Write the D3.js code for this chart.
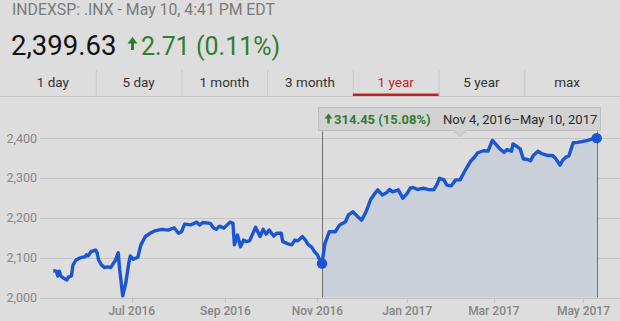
<!DOCTYPE html>
<html><head><meta charset="utf-8">
<script src="https://cdn.jsdelivr.net/npm/d3@7/dist/d3.min.js"></script>
<style>
html,body{margin:0;padding:0;background:#dddddd;}
svg{display:block;font-family:Roboto,"Noto Sans",sans-serif;}
</style></head>
<body><svg id="c" width="620" height="321"></svg>
<script>
const tabs = ["1 day","5 day","1 month","3 month","1 year","5 year","max"];
const activeTab = "1 year";
const headerTitle = "INDEXSP: .INX - May 10, 4:41 PM EDT";
const lastPrice = "2,399.63";
const dayChange = "2.71 (0.11%)";
const rangeChange = "314.45 (15.08%)";
const rangeLabel = "Nov 4, 2016\u2013May 10, 2017";
const yTicks = [2000, 2100, 2200, 2300, 2400];
const xTicks = ["2016-07-01","2016-09-01","2016-11-01","2017-01-01","2017-03-01","2017-05-01"];
const selStart = "2016-11-04";
const dates = [
"2016-05-10","2016-05-12","2016-05-13","2016-05-14","2016-05-15","2016-05-17","2016-05-19","2016-05-20","2016-05-22","2016-05-23",
"2016-05-25","2016-05-27","2016-05-29","2016-05-31","2016-06-01","2016-06-02","2016-06-04","2016-06-07","2016-06-08","2016-06-09",
"2016-06-11","2016-06-13","2016-06-15","2016-06-17","2016-06-19","2016-06-20","2016-06-22","2016-06-23","2016-06-25","2016-06-27",
"2016-06-29","2016-06-30","2016-07-02","2016-07-05","2016-07-07","2016-07-10","2016-07-13","2016-07-16","2016-07-21","2016-07-25",
"2016-07-29","2016-08-01","2016-08-03","2016-08-05","2016-08-09","2016-08-13","2016-08-15","2016-08-17","2016-08-22","2016-08-24",
"2016-08-26","2016-08-28","2016-08-31","2016-09-04","2016-09-06","2016-09-07","2016-09-09","2016-09-11","2016-09-13","2016-09-15",
"2016-09-17","2016-09-21","2016-09-24","2016-09-26","2016-09-28","2016-09-30","2016-10-03","2016-10-05","2016-10-08","2016-10-09",
"2016-10-13","2016-10-15","2016-10-17","2016-10-19","2016-10-22","2016-10-24","2016-10-26","2016-10-28","2016-10-30","2016-11-01",
"2016-11-02","2016-11-04",
"2016-11-06","2016-11-09","2016-11-13","2016-11-16","2016-11-20","2016-11-22","2016-11-25","2016-11-28","2016-12-01","2016-12-04",
"2016-12-07","2016-12-10","2016-12-12","2016-12-15","2016-12-18","2016-12-20","2016-12-22","2016-12-26","2016-12-29","2017-01-01",
"2017-01-03","2017-01-05","2017-01-08","2017-01-12","2017-01-15","2017-01-19","2017-01-21","2017-01-23","2017-01-26","2017-01-28",
"2017-01-31","2017-02-03","2017-02-06","2017-02-09","2017-02-13","2017-02-16","2017-02-18","2017-02-22","2017-02-25","2017-02-28",
"2017-03-02","2017-03-05","2017-03-08","2017-03-10","2017-03-13","2017-03-14","2017-03-17","2017-03-19","2017-03-21","2017-03-24",
"2017-03-26","2017-03-28","2017-03-31","2017-04-03","2017-04-07","2017-04-10","2017-04-12","2017-04-15","2017-04-17","2017-04-19",
"2017-04-21","2017-04-24","2017-04-27","2017-04-30","2017-05-04","2017-05-07","2017-05-10"];
const closes = [
2067,2066,2054,2066,2054,2048,2044,2051,2054,2081,
2094,2098,2101,2102,2107,2104,2115,2119,2112,2094,
2081,2075,2077,2075,2087,2092,2112,2069,2004,2036,
2086,2104,2096,2101,2132,2153,2161,2167,2171,2169,
2175,2161,2165,2184,2182,2189,2182,2188,2186,2175,
2171,2179,2174,2189,2186,2132,2157,2127,2144,2140,
2142,2176,2153,2171,2159,2169,2154,2161,2161,2140,
2134,2132,2144,2142,2153,2144,2132,2127,2115,2107,
2098,2085.18,
2136,2165,2165,2182,2190,2207,2215,2204,2194,2215,
2245,2261,2270,2257,2263,2271,2265,2270,2249,2261,
2274,2276,2271,2274,2271,2270,2282,2299,2295,2282,
2280,2295,2295,2316,2341,2353,2363,2368,2367,2394,
2386,2373,2364,2371,2367,2385,2378,2372,2348,2346,
2343,2357,2367,2360,2356,2356,2349,2332,2345,2352,
2355,2388,2389,2391,2394,2398,2399.63];

const parse = d3.timeParse("%Y-%m-%d");
const data = dates.map((d,i)=>({date:parse(d), v:closes[i]}));
const first = data[0].date, last = data[data.length-1].date, sel = parse(selStart);
const selData = data.filter(d=>d.date>=sel);

const svg = d3.select("#c");
svg.append("rect").attr("width",620).attr("height",321).attr("fill","#dddddd");

// header
svg.append("text").attr("x",12).attr("y",15).attr("font-size",15.8).attr("fill","#7a7a7a").text(headerTitle);
svg.append("text").attr("x",11).attr("y",54.5).attr("font-size",27.5).attr("fill","#111").text(lastPrice);
const green = "#2f7d2f";
svg.append("path").attr("d","M132.5,37 L127.5,43.5 L131,43.5 L131,50 L134,50 L134,43.5 L137.5,43.5 Z").attr("fill",green);
svg.append("text").attr("x",141).attr("y",54.5).attr("font-size",25).attr("fill",green).text(dayChange);

// tabs
const tabX = d3.scaleBand().domain(tabs).range([10,610]);
svg.append("line").attr("x1",0).attr("x2",620).attr("y1",96.5).attr("y2",96.5).attr("stroke","#c6c6c6");
tabs.forEach((t,i)=>{
  if(i>0) svg.append("line").attr("x1",tabX(t)+0.5).attr("x2",tabX(t)+0.5).attr("y1",70).attr("y2",96).attr("stroke","#c8c8c8");
  svg.append("text").attr("x",tabX(t)+tabX.bandwidth()/2).attr("y",86.5).attr("text-anchor","middle")
    .attr("font-size",13.5).attr("fill", t===activeTab?"#c5221f":"#333").text(t);
});
svg.append("rect").attr("x",tabX(activeTab)).attr("y",93.5).attr("width",tabX.bandwidth()).attr("height",2.5).attr("fill","#c5221f");

// scales
const x = d3.scaleTime().domain([first, sel, last]).range([53.3, 322, 596.7]);
const y = d3.scaleLinear().domain([2000,2400]).range([297.5,138]);

// grid + y labels
yTicks.forEach(t=>{
  svg.append("line").attr("x1",40).attr("x2",620).attr("y1",Math.round(y(t))+0.5).attr("y2",Math.round(y(t))+0.5).attr("stroke","#c4c4c4");
  svg.append("text").attr("x",37).attr("y",y(t)+4.5).attr("text-anchor","end").attr("font-size",12.5).attr("fill","#858585")
    .text(d3.format(",")(t));
});
// x ticks
const fmt = d3.timeFormat("%b %Y");
xTicks.map(parse).forEach(t=>{
  svg.append("line").attr("x1",Math.round(x(t))+0.5).attr("x2",Math.round(x(t))+0.5).attr("y1",y(2000)).attr("y2",y(2000)+5).attr("stroke","#c4c4c4");
  svg.append("text").attr("x",x(t)).attr("y",315).attr("text-anchor","middle").attr("font-size",12).attr("font-weight",500).attr("fill","#858585").text(fmt(t));
});

// area selection
svg.append("path").datum(selData).attr("fill","#c9d0da")
  .attr("d", d3.area().x(d=>x(d.date)).y0(y(2000)).y1(d=>y(d.v)));

// vertical lines
[sel,last].forEach(t=>{
  svg.append("line").attr("x1",Math.round(x(t))+0.5).attr("x2",Math.round(x(t))+0.5).attr("y1",131.5).attr("y2",y(2000)).attr("stroke","#6e6e6e");
});

// line
svg.append("path").datum(data).attr("fill","none").attr("stroke","#1a55d3").attr("stroke-width",3.4).attr("stroke-linejoin","round")
  .attr("d", d3.line().x(d=>x(d.date)).y(d=>y(d.v)));
[selData[0], data[data.length-1]].forEach(d=>{
  svg.append("circle").attr("cx",x(d.date)).attr("cy",y(d.v)).attr("r",5.2).attr("fill","#1a55d3");
});

// tooltip
const tip = svg.append("g");
tip.append("path").attr("d","M318.5,107.5 H600.5 V130.5 H466 L460,136.5 L454,130.5 H318.5 Z").attr("fill","#d2d2d2").attr("stroke","#bdbdbd");
tip.append("path").attr("d","M328.5,113.5 L324.5,118.5 L327.3,118.5 L327.3,123.5 L329.7,123.5 L329.7,118.5 L332.5,118.5 Z").attr("fill",green);
tip.append("text").attr("x",334).attr("y",123.5).attr("font-size",13).attr("font-weight",700).attr("fill",green).text(rangeChange);
tip.append("text").attr("x",443).attr("y",123.5).attr("font-size",13).attr("fill","#2a2a2a").text(rangeLabel);
</script></body></html>
